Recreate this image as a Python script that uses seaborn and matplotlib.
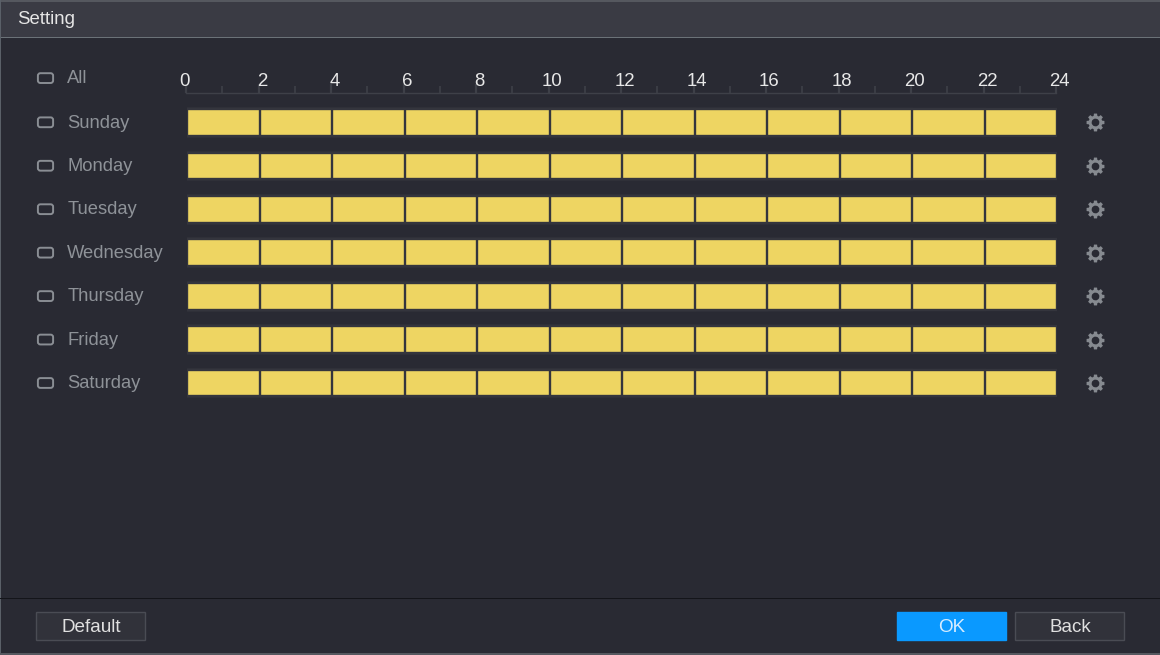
import numpy as np
import pandas as pd
import matplotlib
matplotlib.use('Agg')
import matplotlib.pyplot as plt
import matplotlib.transforms as mtrans
from matplotlib.patches import FancyBboxPatch, Rectangle
from matplotlib.path import Path
import seaborn as sns

days = ['Sunday', 'Monday', 'Tuesday', 'Wednesday', 'Thursday', 'Friday', 'Saturday']
segment_ends = [2, 4, 6, 8, 10, 12, 14, 16, 18, 20, 22, 24]
hour_labels = ['0', '2', '4', '6', '8', '10', '12', '14', '16', '18', '20', '22', '24']
hour_ticks = [0, 2, 4, 6, 8, 10, 12, 14, 16, 18, 20, 22, 24]

BG = '#292a33'
W, H = 1160, 655

sns.set_style('dark')
plt.rcParams['font.family'] = ['Liberation Sans', 'DejaVu Sans']


def px_axes(fig, left, top, right, bottom, **kw):
    return fig.add_axes([left / W, 1 - bottom / H, (right - left) / W, (bottom - top) / H], **kw)


def gear_path(teeth=8, r_out=1.0, r_in=0.76, r_hole=0.42):
    verts, codes = [], []
    step = 2 * np.pi / teeth
    for i in range(teeth):
        a = i * step
        for da, r in [(-0.27, r_in), (-0.17, r_out), (0.17, r_out), (0.27, r_in)]:
            verts.append((r * np.cos(a + da * step * 1.3), r * np.sin(a + da * step * 1.3)))
    codes = [Path.MOVETO] + [Path.LINETO] * (len(verts) - 1)
    verts.append(verts[0])
    codes.append(Path.CLOSEPOLY)
    hole = Path.circle((0, 0), r_hole)
    hole_v = hole.vertices[::-1]
    hole_c = [Path.MOVETO] + list(hole.codes[1:-1]) + [Path.CLOSEPOLY]
    return Path(np.vstack([verts, hole_v]), list(codes) + hole_c)


fig = plt.figure(figsize=(11.6, 6.55), dpi=100, facecolor=BG)

# window chrome, in pixel coordinates
bg = fig.add_axes([0, 0, 1, 1], zorder=0)
bg.set_xlim(0, W)
bg.set_ylim(H, 0)
bg.axis('off')
bg.add_patch(Rectangle((0, 0), W, 37, color='#3a3b44', lw=0))
bg.add_patch(Rectangle((0, 0), W, 1.5, color='#55585f', lw=0))
bg.add_patch(Rectangle((0, 36.5), W, 1.2, color='#6b7278', lw=0))
bg.add_patch(Rectangle((0, 0), 1.2, H, color='#5a6068', lw=0))
bg.add_patch(Rectangle((0, 597.8), W, 1.2, color='#14151a', lw=0))
bg.add_patch(Rectangle((0, 652.5), W, 2.5, color='#55585f', lw=0))
bg.text(17.5, 19, 'Setting', color='#e6e6e6', fontsize=13.4, va='center', ha='left')

# checkboxes
row_y = [78] + [122.2 + 43.45 * i for i in range(len(days))]
for y in row_y:
    bg.add_patch(FancyBboxPatch((39.5, y - 3.2), 12, 6.6, boxstyle='round,pad=1.6,rounding_size=2.5',
                                fc='none', ec='#8a8e94', lw=1.4))
bg.text(67, 78.5, 'All', color='#8e9298', fontsize=13.2, va='center', ha='left')

# footer buttons
for x0, fc, ec, label, tc in [(36, '#31323a', '#4a4c54', 'Default', '#e0e0e0'),
                              (897, '#0a99ff', '#0a99ff', 'OK', '#d5ecff'),
                              (1015, '#31323a', '#4a4c54', 'Back', '#e0e0e0')]:
    bg.add_patch(Rectangle((x0, 612), 108.5, 27.5, fc=fc, ec=ec, lw=1))
    bg.text(x0 + 55, 627, label, color=tc, fontsize=13.6, va='center', ha='center')

# schedule bars: later ends first, each shorter bar paints over the one before
ax = px_axes(fig, 187.2, 100.7, 1057.2, 404.8, zorder=2)
ax.patch.set_alpha(0)
for end in segment_ends[::-1]:
    df = pd.DataFrame({'day': days, 'end': [end] * len(days)})
    sns.barplot(data=df, x='end', y='day', orient='h', ax=ax, color='#eed562', saturation=1,
                width=0.615, edgecolor='#34353d', linewidth=1.7)
ax.set_xlim(0, 24)
ax.set_ylim(len(days) - 0.5, -0.5)
ax.set_xlabel('')
ax.set_ylabel('')
ax.set_xticks([])
ax.grid(False)
sns.despine(ax=ax, left=True, bottom=True)
ax.tick_params(axis='y', length=0, pad=86.3, colors='#8e9298', labelsize=13.2)
shift = mtrans.ScaledTranslation(0, 1.0 / 72, fig.dpi_scale_trans)
for lab in ax.get_yticklabels():
    lab.set_ha('left')
    lab.set_transform(lab.get_transform() + shift)

# gears to the right of each row
ax.scatter([25.05] * len(days), range(len(days)), marker=gear_path(), s=165, color='#868a90',
           linewidths=0, clip_on=False)

# hour ruler
ruler = px_axes(fig, 186, 92.5, 1056, 93.5, zorder=1)
ruler.patch.set_alpha(0)
ruler.set_xlim(0, 24)
ruler.set_yticks([])
ruler.xaxis.tick_top()
for name, spine in ruler.spines.items():
    spine.set_visible(name == 'top')
    spine.set_color('#3e4048')
    spine.set_linewidth(1)
ruler.set_xticks(hour_ticks, labels=hour_labels)
ruler.set_xticks(np.arange(0, 24.5, 1), minor=True)
ruler.tick_params(axis='x', which='major', length=6.8, width=1.6, color='#3e4048', pad=-5,
                  labelsize=13.4, labelcolor='#e8e8e8')
ruler.tick_params(axis='x', which='minor', length=5, width=1.2, color='#3e4048')
for lab, val in zip(ruler.get_xticklabels(), hour_ticks):
    dx = -1 if val == 0 else 3.5
    lab.set_transform(lab.get_transform() + mtrans.ScaledTranslation(dx / 100, 0, fig.dpi_scale_trans))
ruler.grid(False)

fig.savefig('out.png', dpi=100, facecolor=BG)
